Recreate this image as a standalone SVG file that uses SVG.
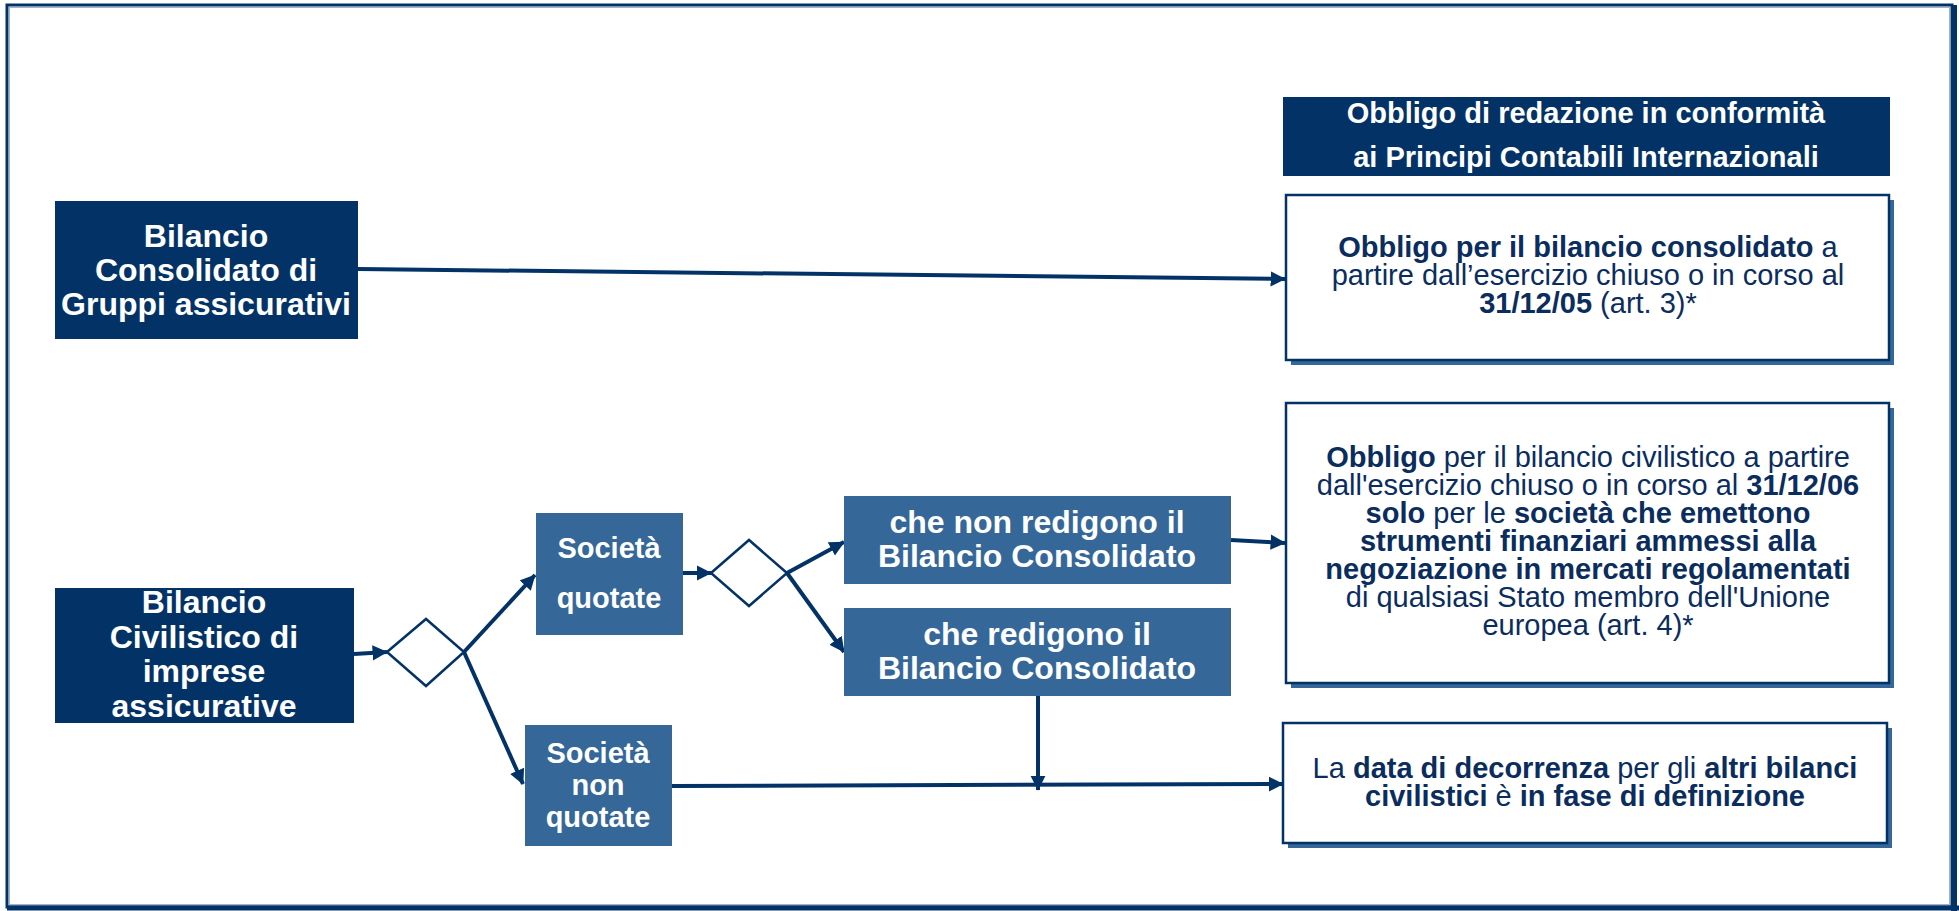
<svg xmlns="http://www.w3.org/2000/svg" width="1959" height="911" viewBox="0 0 1959 911">
<defs>
<style>
text{font-family:"Liberation Sans",Arial,sans-serif;text-anchor:middle}
.wt{fill:#ffffff;font-weight:bold;font-size:32px}
.ws{fill:#ffffff;font-weight:bold;font-size:29px}
.hd{fill:#ffffff;font-weight:bold;font-size:29px}
.bt{fill:#0a2d5e;font-size:29px}
.b{font-weight:bold}
.dark{fill:#033366}
.mid{fill:#356799}
.shadow{fill:#356799}
.wbox{fill:#ffffff;stroke:#033366;stroke-width:2.5}
.dia{fill:#ffffff;stroke:#033366;stroke-width:2.5}
.con{stroke:#033366;stroke-width:4;fill:none}
</style>
<marker id="ah" viewBox="0 0 10 10" refX="9.5" refY="5" markerWidth="3.8" markerHeight="4" orient="auto" markerUnits="strokeWidth">
<path d="M0,0 L10,5 L0,10 z" fill="#033366"/>
</marker>
</defs>
<rect x="0" y="0" width="1959" height="911" fill="#ffffff"/>
<g id="frame">
<rect x="7" y="5" width="1945" height="902" fill="none" stroke="#033366" stroke-width="3"/>
<rect x="9.5" y="7.5" width="1940" height="897" fill="none" stroke="#9fb4cc" stroke-width="1"/>
<line x1="1954" y1="5" x2="1954" y2="911" stroke="#033366" stroke-width="6"/>
<line x1="7" y1="908" x2="1959" y2="908" stroke="#033366" stroke-width="5"/>
</g>
<g id="connectors">
<line class="con" x1="358" y1="269" x2="1285" y2="279" marker-end="url(#ah)"/>
<line class="con" x1="354" y1="654" x2="387" y2="652" marker-end="url(#ah)"/>
<line class="con" x1="464" y1="652" x2="535" y2="575" marker-end="url(#ah)"/>
<line class="con" x1="464" y1="652" x2="523" y2="784" marker-end="url(#ah)"/>
<line class="con" x1="683" y1="573" x2="711" y2="573" marker-end="url(#ah)"/>
<line class="con" x1="787" y1="573" x2="844" y2="542" marker-end="url(#ah)"/>
<line class="con" x1="787" y1="573" x2="844" y2="652" marker-end="url(#ah)"/>
<line class="con" x1="1231" y1="540" x2="1285" y2="543" marker-end="url(#ah)"/>
<line class="con" x1="672" y1="786" x2="1283" y2="784" marker-end="url(#ah)"/>
<line class="con" x1="1038" y1="696" x2="1038" y2="790" marker-end="url(#ah)"/>
</g>
<g id="n-header">
<rect class="dark" x="1283" y="97" width="607" height="79"/>
<text class="hd" x="1586" y="123">Obbligo di redazione in conformità</text>
<text class="hd" x="1586" y="167">ai Principi Contabili Internazionali</text>
</g>
<g id="n-consolidato">
<rect class="dark" x="55" y="201" width="303" height="138"/>
<text class="wt" x="206" y="247">Bilancio</text>
<text class="wt" x="206" y="281">Consolidato di</text>
<text class="wt" x="206" y="315">Gruppi assicurativi</text>
</g>
<g id="n-civilistico">
<rect class="dark" x="55" y="588" width="299" height="135"/>
<text class="wt" x="204" y="613">Bilancio</text>
<text class="wt" x="204" y="648">Civilistico di</text>
<text class="wt" x="204" y="682">imprese</text>
<text class="wt" x="204" y="717">assicurative</text>
</g>
<g id="d-1">
<polygon class="dia" points="387,652 426,619 464,652 426,686"/>
</g>
<g id="n-quotate">
<rect class="mid" x="536" y="513" width="147" height="122"/>
<text class="ws" x="609" y="558">Società</text>
<text class="ws" x="609" y="608">quotate</text>
</g>
<g id="n-nonquotate">
<rect class="mid" x="525" y="725" width="147" height="121"/>
<text class="ws" x="598" y="763">Società</text>
<text class="ws" x="598" y="795">non</text>
<text class="ws" x="598" y="827">quotate</text>
</g>
<g id="d-2">
<polygon class="dia" points="711,573 749,540 787,573 749,606"/>
</g>
<g id="n-nonredigono">
<rect class="mid" x="844" y="496" width="387" height="88"/>
<text class="wt" x="1037" y="533">che non redigono il</text>
<text class="wt" x="1037" y="567">Bilancio Consolidato</text>
</g>
<g id="n-redigono">
<rect class="mid" x="844" y="608" width="387" height="88"/>
<text class="wt" x="1037" y="645">che redigono il</text>
<text class="wt" x="1037" y="679">Bilancio Consolidato</text>
</g>
<g id="n-box1">
<rect class="shadow" x="1291" y="200" width="603" height="165"/>
<rect class="wbox" x="1286" y="195" width="603" height="165"/>
<text class="bt" x="1588" y="257"><tspan class="b">Obbligo per il bilancio consolidato</tspan> a</text>
<text class="bt" x="1588" y="285">partire dall’esercizio chiuso o in corso al</text>
<text class="bt" x="1588" y="313"><tspan class="b">31/12/05</tspan> (art. 3)*</text>
</g>
<g id="n-box2">
<rect class="shadow" x="1291" y="408" width="603" height="280"/>
<rect class="wbox" x="1286" y="403" width="603" height="280"/>
<text class="bt" x="1588" y="467"><tspan class="b">Obbligo</tspan> per il bilancio civilistico a partire</text>
<text class="bt" x="1588" y="495">dall'esercizio chiuso o in corso al <tspan class="b">31/12/06</tspan></text>
<text class="bt" x="1588" y="523"><tspan class="b">solo</tspan> per le <tspan class="b">società che emettono</tspan></text>
<text class="bt b" x="1588" y="551">strumenti finanziari ammessi alla</text>
<text class="bt b" x="1588" y="579">negoziazione in mercati regolamentati</text>
<text class="bt" x="1588" y="607">di qualsiasi Stato membro dell'Unione</text>
<text class="bt" x="1588" y="635">europea (art. 4)*</text>
</g>
<g id="n-box3">
<rect class="shadow" x="1288" y="728" width="604" height="120"/>
<rect class="wbox" x="1283" y="723" width="604" height="120"/>
<text class="bt" x="1585" y="778">La <tspan class="b">data di decorrenza</tspan> per gli <tspan class="b">altri bilanci</tspan></text>
<text class="bt" x="1585" y="806"><tspan class="b">civilistici</tspan> è <tspan class="b">in fase di definizione</tspan></text>
</g>
</svg>
